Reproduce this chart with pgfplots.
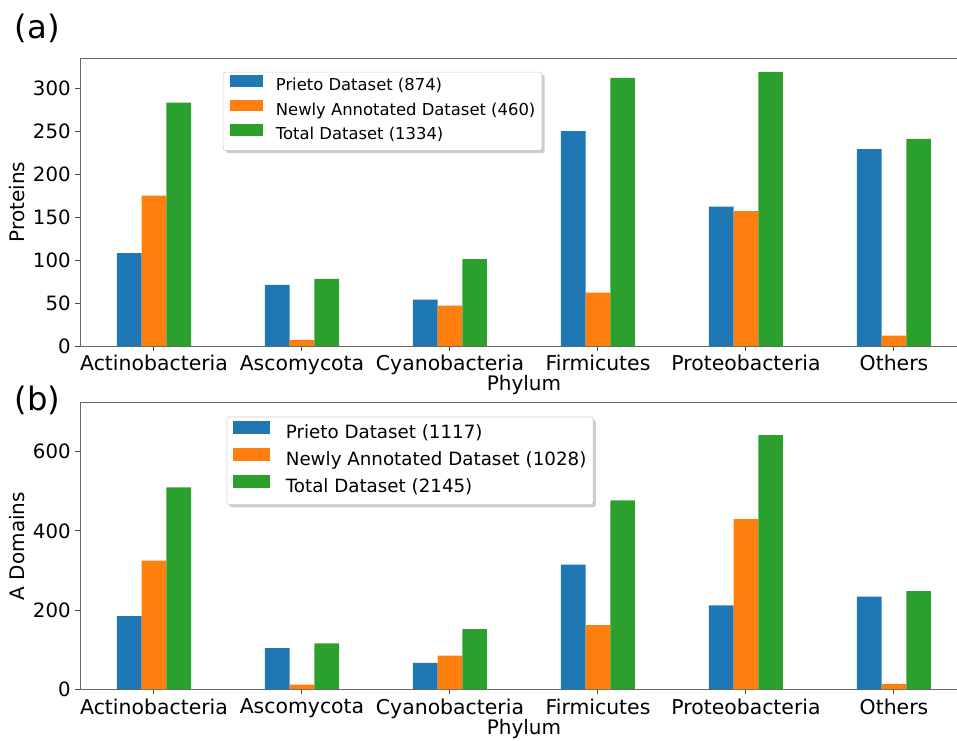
\documentclass[border=0pt]{standalone}
\usepackage{fontspec}
\setmainfont{DejaVu Sans}
\usepackage{pgfplots}
\pgfplotsset{compat=1.18}
\usetikzlibrary{shadows}
\makeatletter
\tikzset{no preaction/.code={\let\tikz@preactions\pgfutil@empty}}
\makeatother
\definecolor{tabblue}{HTML}{1F77B4}
\definecolor{taborange}{HTML}{FF7F0E}
\definecolor{tabgreen}{HTML}{2CA02C}
\pgfplotsset{
  panel/.style={
    scale only axis, width=666pt,
    xmin=-0.5, xmax=5.5, ymin=0,
    xtick={0,...,5},
    xticklabels={Actinobacteria,Ascomycota,Cyanobacteria,Firmicutes,Proteobacteria,Others},
    xtick pos=bottom, ytick pos=left,
    tick align=outside, major tick length=3.5pt,
    axis line style={black!60, line width=0.75pt},
    tick style={black!70, line width=0.75pt},
    yticklabel style={font=\fontsize{14.8}{17}\selectfont},
    xticklabel style={font=\fontsize{15.3}{17}\selectfont},
    /pgf/number format/assume math mode=true,
    legend cell align=left,
    ybar, bar width=0.16667,
    xlabel={Phylum},
  },
  legA/.style={legend image code/.code={\fill[##1, no preaction, sharp corners] (0pt,0pt) rectangle (24.75pt,8.8pt);}},
  legB/.style={legend image code/.code={\fill[##1, no preaction, sharp corners] (0pt,-0.1pt) rectangle (27.5pt,9.9pt);}},
}
\begin{document}
\begin{tikzpicture}
\begin{axis}[panel,
  at={(60pt,-259.5pt)}, anchor=south west, height=216pt,
  ymax=335, ytick={0,50,...,300},
  ylabel={Proteins},
  every axis y label/.style={at={(axis description cs:-0.0709,0.5)}, anchor=center, rotate=90, font=\fontsize{15}{17}\selectfont},
  every axis x label/.style={at={(axis description cs:0.5,-0.137)}, anchor=center, font=\fontsize{15}{17}\selectfont},
  legend style={at={(0.161,0.952)}, anchor=north west, draw=black!20, rounded corners=2pt, fill=white,
    drop shadow={shadow xshift=2pt, shadow yshift=-2pt, fill=black!40},
    inner xsep=5pt, inner ysep=1.8pt, font=\fontsize{12.3}{14}\selectfont,
    nodes={inner sep=0pt, text height=12.3pt, text depth=6.1pt},
    /tikz/every odd column/.append style={column sep=9.75pt}},
]
\addplot[fill=tabblue, draw=none, bar shift=-0.16667, legA] coordinates {(0,108) (1,71) (2,54) (3,250) (4,162) (5,229)};
\addplot[fill=taborange, draw=none, bar shift=0, legA] coordinates {(0,175) (1,7) (2,47) (3,62) (4,157) (5,12)};
\addplot[fill=tabgreen, draw=none, bar shift=0.16667, legA] coordinates {(0,283) (1,78) (2,101) (3,312) (4,319) (5,241)};
\legend{Prieto Dataset (874), Newly Annotated Dataset (460), Total Dataset (1334)}
\end{axis}
\begin{axis}[panel,
  at={(60pt,-517pt)}, anchor=south west, height=215pt,
  ymax=724, ytick={0,200,400,600},
  ylabel={A Domains},
  every axis y label/.style={at={(axis description cs:-0.0709,0.5)}, anchor=center, rotate=90, font=\fontsize{15}{17}\selectfont},
  every axis x label/.style={at={(axis description cs:0.5,-0.1385)}, anchor=center, font=\fontsize{15}{17}\selectfont},
  legend style={at={(0.165,0.951)}, anchor=north west, draw=black!20, rounded corners=2pt, fill=white,
    drop shadow={shadow xshift=2pt, shadow yshift=-2pt, fill=black!40},
    inner xsep=5pt, inner ysep=2.5pt, font=\fontsize{13.7}{16}\selectfont,
    nodes={inner sep=0pt, text height=13.65pt, text depth=6.6pt},
    /tikz/every odd column/.append style={column sep=11.8pt}},
]
\addplot[fill=tabblue, draw=none, bar shift=-0.16667, legB] coordinates {(0,185) (1,104) (2,67) (3,315) (4,212) (5,234)};
\addplot[fill=taborange, draw=none, bar shift=0, legB] coordinates {(0,325) (1,12) (2,85) (3,162) (4,430) (5,14)};
\addplot[fill=tabgreen, draw=none, bar shift=0.16667, legB] coordinates {(0,510) (1,116) (2,152) (3,477) (4,642) (5,248)};
\legend{Prieto Dataset (1117), Newly Annotated Dataset (1028), Total Dataset (2145)}
\end{axis}
\node[font=\fontsize{24.2}{29}\selectfont] at (28.1pt,-21pt) {(a)};
\node[font=\fontsize{24.2}{29}\selectfont] at (28.1pt,-300pt) {(b)};
\pgfresetboundingbox
\path[use as bounding box] (0,0) rectangle (717.75pt,-555pt);
\end{tikzpicture}
\end{document}
